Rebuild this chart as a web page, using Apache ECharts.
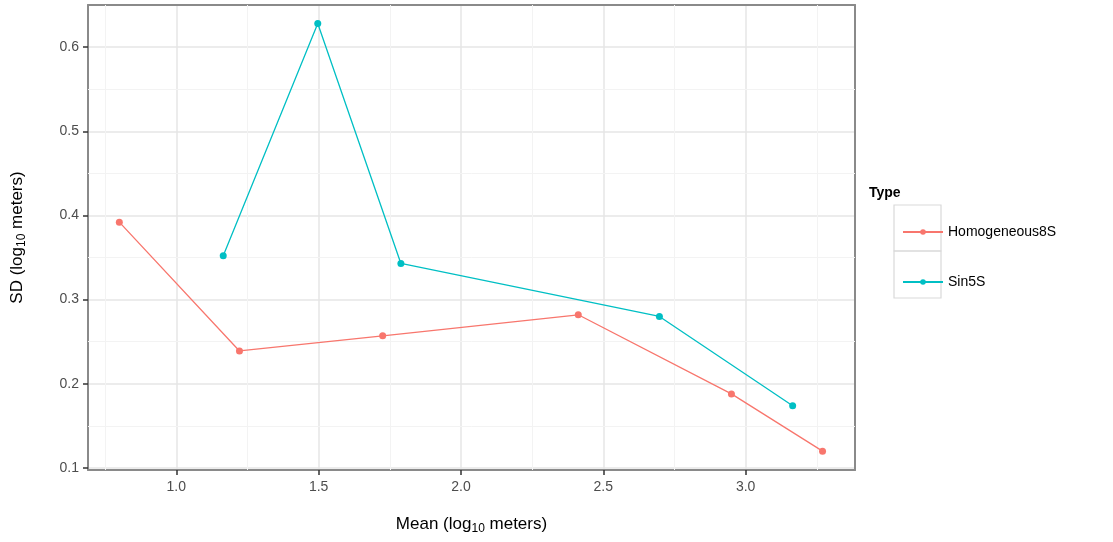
<!DOCTYPE html>
<html>
<head>
<meta charset="utf-8">
<script src="https://cdn.jsdelivr.net/npm/echarts@6/dist/echarts.min.js"></script>
<style>html,body{margin:0;padding:0;background:#fff}#c{width:1113px;height:542px}</style>
</head>
<body>
<div id="c"></div>
<script>
const seriesNames = ['Homogeneous8S', 'Sin5S'];
const homoX = [0.80, 1.222, 1.725, 2.412, 2.95, 3.27];
const homoY = [0.392, 0.239, 0.257, 0.282, 0.188, 0.120];
const sinX = [1.165, 1.497, 1.789, 2.697, 3.165];
const sinY = [0.352, 0.628, 0.343, 0.280, 0.174];
const xMinorTicks = [0.75, 1.25, 1.75, 2.25, 2.75, 3.25];
const yMinorTicks = [0.15, 0.25, 0.35, 0.45, 0.55];
const colors = ['#F8766D', '#00BFC4'];

const pairs = (xs, ys) => xs.map((x, i) => [x, ys[i]]);
const chart = echarts.init(document.getElementById('c'));
const font = 'Liberation Sans, Arial, sans-serif';
const minorLines = xMinorTicks.map(v => ({xAxis: v})).concat(yMinorTicks.map(v => ({yAxis: v})));
const frameLine = {show: true, lineStyle: {color: '#8a8a8a', width: 2}};
const hidden = {axisTick: {show: false}, axisLabel: {show: false}, splitLine: {show: false}};

chart.setOption({
  animation: false,
  textStyle: {fontFamily: font},
  title: {text: 'Type', left: 864, top: 181, textStyle: {fontSize: 14, fontWeight: 'bold', color: '#000', fontFamily: font}},
  legend: {
    orient: 'vertical', left: 897, top: 220, itemWidth: 40, itemHeight: 7, itemGap: 36,
    textStyle: {fontSize: 14, color: '#000', fontFamily: font},
    data: seriesNames
  },
  graphic: [
    {type: 'rect', shape: {x: 894, y: 205, width: 47, height: 46}, style: {fill: 'none', stroke: '#d9d9d9', lineWidth: 1.2}, z: -1},
    {type: 'rect', shape: {x: 894, y: 251, width: 47, height: 47}, style: {fill: 'none', stroke: '#d9d9d9', lineWidth: 1.2}, z: -1}
  ],
  grid: {left: 88, top: 5, right: 258, bottom: 72, show: false},
  xAxis: [{
    type: 'value', min: 0.69, max: 3.384, splitNumber: 5,
    name: '{a|Mean (log}{s|10}{a| meters)}', nameLocation: 'middle', nameGap: 44,
    nameTextStyle: {rich: {a: {fontSize: 17, color: '#000', fontFamily: font}, s: {fontSize: 12, color: '#000', fontFamily: font, padding: [9, 0, 0, 0]}}},
    axisLine: frameLine,
    axisTick: {show: true, length: 5, lineStyle: {color: '#333', width: 1.5}},
    axisLabel: {showMinLabel: false, showMaxLabel: false, fontSize: 14, color: '#4d4d4d', margin: 10, formatter: v => v.toFixed(1)},
    splitLine: {show: true, lineStyle: {color: '#e6e6e6', width: 1.5}}
  }, Object.assign({type: 'value', position: 'top', min: 0.69, max: 3.384, axisLine: frameLine}, hidden)],
  yAxis: [{
    type: 'value', min: 0.0976, max: 0.65, splitNumber: 5,
    name: '{a|SD (log}{s|10}{a| meters)}', nameLocation: 'middle', nameGap: 60, nameRotate: 90,
    nameTextStyle: {rich: {a: {fontSize: 17, color: '#000', fontFamily: font}, s: {fontSize: 12, color: '#000', fontFamily: font, padding: [9, 0, 0, 0]}}},
    axisLine: frameLine,
    axisTick: {show: true, length: 5, lineStyle: {color: '#333', width: 1.5}},
    axisLabel: {showMinLabel: false, showMaxLabel: false, fontSize: 14, color: '#4d4d4d', margin: 9, formatter: v => v.toFixed(1)},
    splitLine: {show: true, lineStyle: {color: '#e6e6e6', width: 1.5}}
  }, Object.assign({type: 'value', position: 'right', min: 0.0976, max: 0.65, axisLine: frameLine}, hidden)],
  series: [
    {
      name: seriesNames[0], type: 'line', data: pairs(homoX, homoY), color: colors[0],
      symbol: 'circle', symbolSize: 7, lineStyle: {width: 1.3}, z: 3,
      markLine: {silent: true, symbol: 'none', label: {show: false}, lineStyle: {color: '#f3f3f3', width: 1, type: 'solid'}, data: minorLines, z: 1}
    },
    {
      name: seriesNames[1], type: 'line', data: pairs(sinX, sinY), color: colors[1],
      symbol: 'circle', symbolSize: 7, lineStyle: {width: 1.3}, z: 3
    }
  ]
});
</script>
</body>
</html>
